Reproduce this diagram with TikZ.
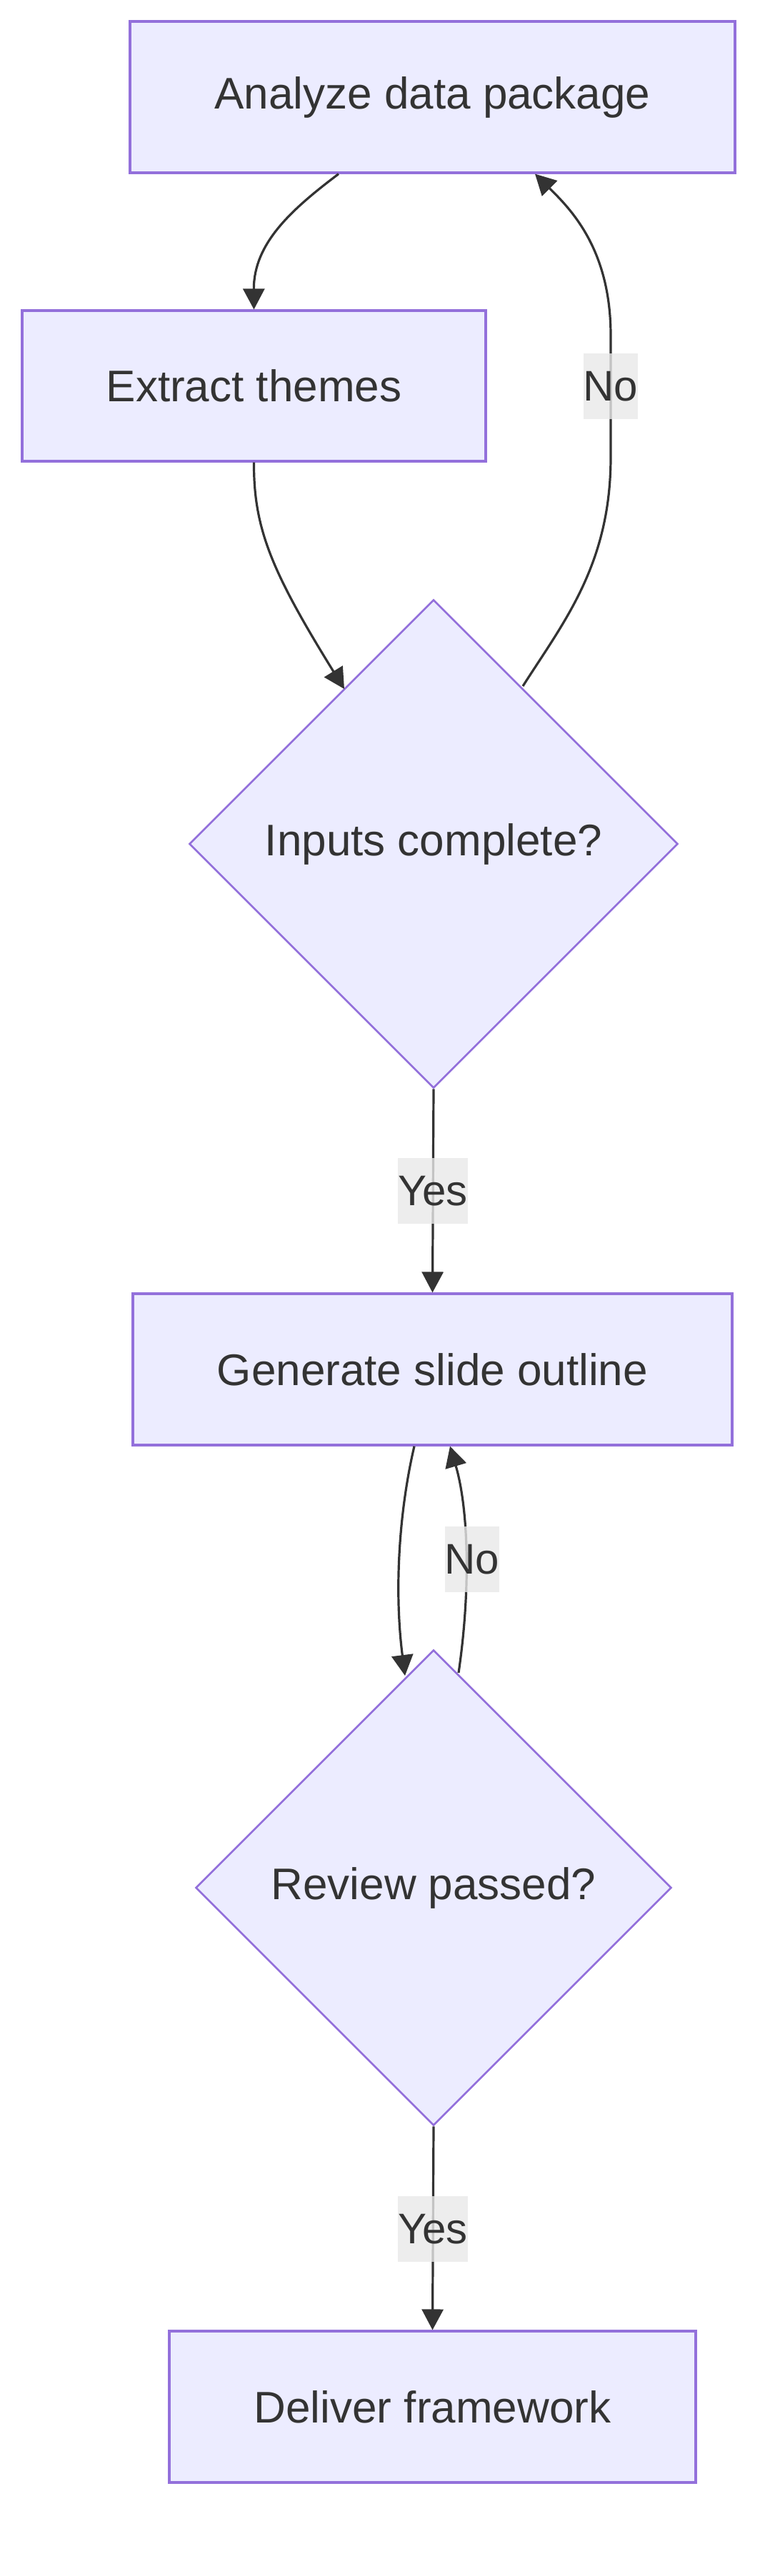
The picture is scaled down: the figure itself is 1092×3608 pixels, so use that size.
\documentclass[tikz,border=0pt]{standalone}
\usepackage{fontspec}
\setmainfont{Liberation Sans}
\usetikzlibrary{shapes.geometric,arrows.meta,calc}
\definecolor{nodefill}{HTML}{ECECFF}
\definecolor{nodeline}{HTML}{9370DB}
\definecolor{ink}{HTML}{333333}
\definecolor{lblbg}{HTML}{E8E8E8}
\tikzset{
  procbox/.style={draw=nodeline,fill=nodefill,line width=1.6pt,text=ink,
    minimum height=106pt,inner sep=0pt,font=\fontsize{31}{37}\selectfont},
  decision/.style={diamond,aspect=1,draw=nodeline,fill=nodefill,line width=1.3pt,
    text=ink,inner sep=0pt,font=\fontsize{31}{37}\selectfont},
  flow/.style={draw=ink,line width=1.6pt,-{Triangle[length=14.5pt,width=15pt]}},
  edgelbl/.style={fill=lblbg,fill opacity=0.8,text opacity=1,text=ink,inner xsep=0pt,
    inner ysep=0pt,minimum height=46pt,font=\fontsize{30}{36}\selectfont}
}
\begin{document}
\begin{tikzpicture}[x=0.5pt,y=-0.5pt]
\useasboundingbox (0,0) rectangle (1092,3608);
\node[procbox,minimum width=423.5pt] (A) at (605.5,136) {Analyze data package};
\node[procbox,minimum width=324.5pt,minimum height=105.5pt] (E) at (355.5,540.5) {Extract themes};
\node[decision,minimum width=342pt,minimum height=342pt] (D1) at (607,1182) {Inputs complete?};
\node[procbox,minimum width=419.5pt] (G) at (605.5,1918) {Generate slide outline};
\node[decision,minimum width=333pt,minimum height=333pt] (D2) at (607,2644) {Review passed?};
\node[procbox,minimum width=368.5pt] (F) at (605.5,3371) {Deliver framework};

% A -> E
\draw[flow] ($(A.south)+(-131.5,0)$) .. controls (410,292) and (355,340) .. (E.south |- E.north);
% E -> D1
\draw[flow] (E.south) .. controls (355,740) and (380,800) .. ($(D1.center)+(-125,-217)$);
% D1 -> A (No)
\coordinate (n1) at (855,640);
\coordinate (n2) at (855,470);
\draw[flow] ($(D1.center)+(125,-221)$) .. controls (790,870) and (855,790) .. (n1)
  -- (n2) .. controls (855,350) and (800,294) .. ($(A.south)+(143.5,0)$);
% D1 -> G (Yes)
\draw[flow] (D1.south) -- (G.north);
% G -> D2
\draw[flow] ($(G.south)+(-25.5,0)$) .. controls (558,2120) and (552,2230) .. ($(D2.center)+(-40,-297)$);
% D2 -> G (No)
\draw[flow] ($(D2.center)+(35,-301)$) .. controls (660,2220) and (655,2110) .. ($(G.south)+(24.5,0)$);
% D2 -> F (Yes)
\draw[flow] (D2.south) -- (F.north);

\node[edgelbl] (l1) at (855,541) {No};
\node[edgelbl] (l2) at (606,1668) {Yes};
\node[edgelbl] (l3) at (661,2184) {No};
\node[edgelbl] (l4) at (606,3122) {Yes};
\end{tikzpicture}
\end{document}
